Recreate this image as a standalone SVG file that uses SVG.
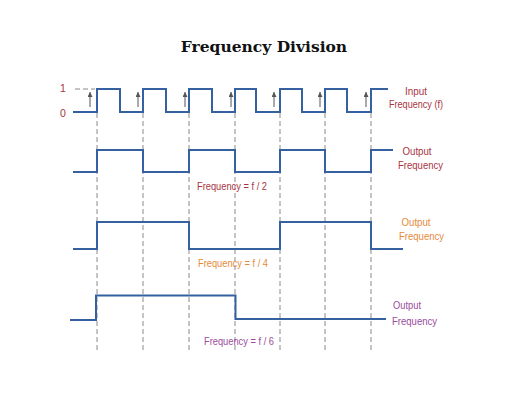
<svg xmlns="http://www.w3.org/2000/svg" width="524" height="402" viewBox="0 0 524 402">
<style>
.wave{fill:none;stroke:#3561a0;stroke-width:2;stroke-linejoin:miter}
.grid{stroke:#8a8a8a;stroke-width:1;stroke-dasharray:5 3;fill:none}
.arr{stroke:#555;stroke-width:1;fill:none}
.lbl{font-family:"Liberation Sans",Arial,sans-serif;font-size:10.5px}
.red{fill:#a8343f}
.org{fill:#e58a3a}
.pur{fill:#9a4b9c}
.title{font-family:"DejaVu Serif","Liberation Serif",serif;font-weight:bold;font-size:15.5px;fill:#111}
</style>
<defs>
<marker id="ah" markerWidth="6" markerHeight="6" refX="5" refY="2.5" orient="auto" markerUnits="userSpaceOnUse">
<path d="M0,0 L5,2.5 L0,5 Z" fill="#555"/>
</marker>
</defs>
<rect width="524" height="402" fill="#fff"/>
<text id="title" class="title" x="264" y="52" text-anchor="middle">Frequency Division</text>
<g id="gridlines">
<line class="grid" x1="97" y1="113" x2="97" y2="352"/>
<line class="grid" x1="143" y1="113" x2="143" y2="352"/>
<line class="grid" x1="189" y1="113" x2="189" y2="352"/>
<line class="grid" x1="235" y1="113" x2="235" y2="352"/>
<line class="grid" x1="280" y1="113" x2="280" y2="352"/>
<line class="grid" x1="325" y1="113" x2="325" y2="352"/>
<line class="grid" x1="371" y1="113" x2="371" y2="352"/>
<line class="grid" x1="75" y1="89" x2="95" y2="89"/>
</g>
<g id="levels">
<text class="lbl red" x="63" y="92" text-anchor="middle">1</text>
<text class="lbl red" x="63" y="117" text-anchor="middle">0</text>
</g>
<g id="input-wave">
<path class="wave" d="M73,112 H97 V89 H120 V112 H143 V89 H166 V112 H189 V89 H212 V112 H235 V89 H256 V112 H280 V89 H302 V112 H325 V89 H347 V112 H371 V89 H388"/>
<text class="lbl red" x="416" y="95" text-anchor="middle" textLength="22" lengthAdjust="spacingAndGlyphs">Input</text>
<text class="lbl red" x="389" y="108" textLength="54" lengthAdjust="spacingAndGlyphs">Frequency (f)</text>
</g>
<g id="clock-arrows">
<line class="arr" x1="90" y1="107" x2="90" y2="92" marker-end="url(#ah)"/>
<line class="arr" x1="138" y1="107" x2="138" y2="92" marker-end="url(#ah)"/>
<line class="arr" x1="185" y1="107" x2="185" y2="92" marker-end="url(#ah)"/>
<line class="arr" x1="231" y1="107" x2="231" y2="92" marker-end="url(#ah)"/>
<line class="arr" x1="274" y1="107" x2="274" y2="92" marker-end="url(#ah)"/>
<line class="arr" x1="320" y1="107" x2="320" y2="92" marker-end="url(#ah)"/>
<line class="arr" x1="366" y1="107" x2="366" y2="92" marker-end="url(#ah)"/>
</g>
<g id="output-f2">
<path class="wave" d="M73,172 H97 V150 H143 V172 H189 V150 H235 V172 H280 V150 H325 V172 H371 V150 H393"/>
<text class="lbl red" x="417" y="155" text-anchor="middle" textLength="29" lengthAdjust="spacingAndGlyphs">Output</text>
<text class="lbl red" x="398" y="169" textLength="45" lengthAdjust="spacingAndGlyphs">Frequency</text>
<text class="lbl red" x="197" y="190" textLength="70" lengthAdjust="spacingAndGlyphs">Frequency = f / 2</text>
</g>
<g id="output-f4">
<path class="wave" d="M73,249 H97 V222 H189 V249 H280 V222 H371 V249 H403"/>
<text class="lbl org" x="416" y="226" text-anchor="middle" textLength="29" lengthAdjust="spacingAndGlyphs">Output</text>
<text class="lbl org" x="399" y="240" textLength="45" lengthAdjust="spacingAndGlyphs">Frequency</text>
<text class="lbl org" x="198" y="267" textLength="70" lengthAdjust="spacingAndGlyphs">Frequency = f / 4</text>
</g>
<g id="output-f6">
<path class="wave" d="M70,320 H96 V295.5 H235.5 V319 H386"/>
<text class="lbl pur" x="407" y="309" text-anchor="middle" textLength="28" lengthAdjust="spacingAndGlyphs">Output</text>
<text class="lbl pur" x="392" y="325" textLength="45" lengthAdjust="spacingAndGlyphs">Frequency</text>
<text class="lbl pur" x="204" y="345" textLength="70" lengthAdjust="spacingAndGlyphs">Frequency = f / 6</text>
</g>
</svg>
